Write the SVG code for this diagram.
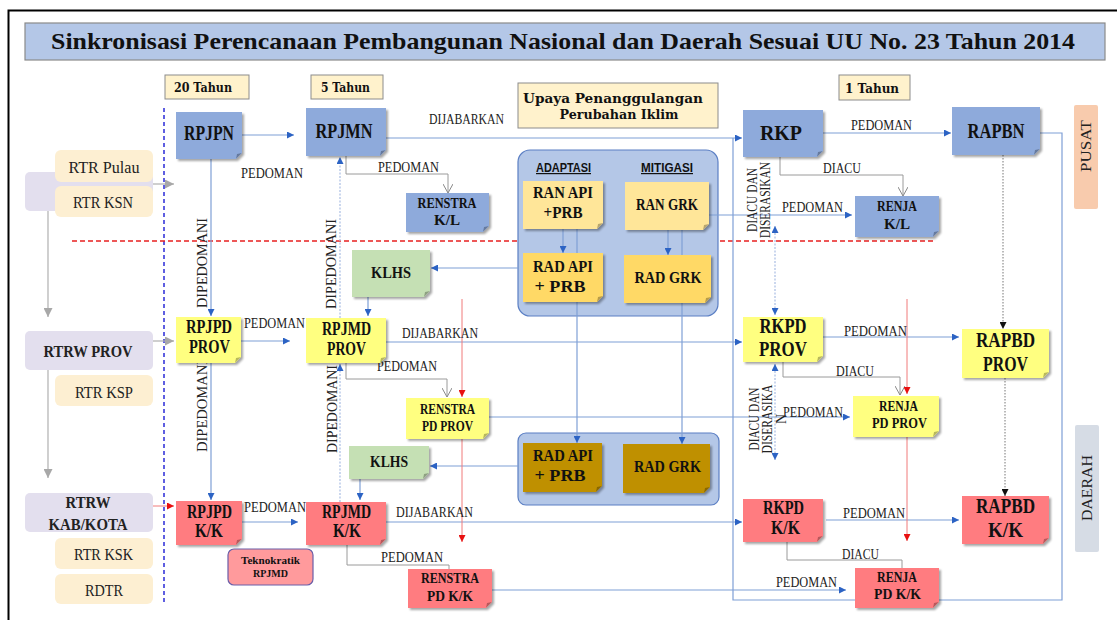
<svg xmlns="http://www.w3.org/2000/svg" width="1117" height="620" viewBox="0 0 1117 620">
<defs>
<filter id="ds" x="-10%" y="-10%" width="130%" height="130%"><feDropShadow dx="2" dy="2" stdDeviation="1.2" flood-color="#000" flood-opacity="0.35"/></filter>
<marker id="ab" viewBox="0 0 8 8" refX="8" refY="4" markerWidth="7" markerHeight="7" markerUnits="userSpaceOnUse" orient="auto-start-reverse"><path d="M0,0L8,4L0,8Z" fill="#2c63c4"/></marker>
<marker id="ar" viewBox="0 0 8 8" refX="8" refY="4" markerWidth="7" markerHeight="7" markerUnits="userSpaceOnUse" orient="auto"><path d="M0,0L8,4L0,8Z" fill="#e81010"/></marker>
<marker id="ak" viewBox="0 0 8 8" refX="8" refY="4" markerWidth="7" markerHeight="7" markerUnits="userSpaceOnUse" orient="auto"><path d="M0,0L8,4L0,8Z" fill="#111"/></marker>
<marker id="ag" viewBox="0 0 8 8" refX="8" refY="4" markerWidth="9" markerHeight="9" markerUnits="userSpaceOnUse" orient="auto"><path d="M0,0L8,4L0,8Z" fill="#a8a8a8"/></marker>
<marker id="ao" viewBox="0 0 10 10" refX="9" refY="5" markerWidth="10" markerHeight="10" markerUnits="userSpaceOnUse" orient="auto"><path d="M0,0L9,5L0,10" fill="none" stroke="#888" stroke-width="1"/></marker>
</defs>
<style>
.bl{fill:#8eaadb}.ye{fill:#ffff80}.rd{fill:#ff7c80}.gr{fill:#c5e0b4}.o1{fill:#ffe699}.o2{fill:#ffd966}.gd{fill:#bf9000}
.sh{filter:url(#ds)}
.fold{fill:#000;opacity:.28}
.nt{font-family:"Liberation Serif",serif;font-weight:bold;fill:#111;text-anchor:middle}
.lt{font-family:"Liberation Serif",serif;font-size:14px;fill:#222}
.vt{font-family:"Liberation Serif",serif;font-size:14px;fill:#222;text-anchor:middle}
.tb{fill:#fff2cc;stroke:#8c8c8c;stroke-width:1}
.tt{font-family:"DejaVu Serif",serif;font-weight:bold;font-size:12px;fill:#111;text-anchor:middle}
.pe{fill:#fdefd2}.lv{fill:#e3dfee}
.lf{font-family:"Liberation Serif",serif;font-size:16px;fill:#222;text-anchor:middle}
.c{fill:none;stroke:#7f9fd6;stroke-width:1.2}
.cl{fill:none;stroke:#a9bde3;stroke-width:1.2;stroke-dasharray:2 1.5}
.cg{fill:none;stroke:#9a9a9a;stroke-width:1}
.cr{fill:none;stroke:#f07a7a;stroke-width:1}
.ck{fill:none;stroke:#777;stroke-width:1;stroke-dasharray:1.5 1.5}
.gl{fill:none;stroke:#b0b0b0;stroke-width:1.2}
</style>
<rect x="0" y="0" width="1117" height="620" fill="#fff"/>
<path d="M8.5 640V10.5H1130" fill="none" stroke="#000" stroke-width="2"/>

<g id="title">
<rect x="25" y="23" width="1080" height="37" fill="#b4c7e7" stroke="#8a8a8a" stroke-width="1.2"/>
<text x="563" y="49" font-family="'Liberation Serif',serif" font-weight="bold" font-size="23" fill="#111" text-anchor="middle" textLength="1024" lengthAdjust="spacingAndGlyphs">Sinkronisasi Perencanaan Pembangunan Nasional dan Daerah Sesuai UU No. 23 Tahun 2014</text>
</g>

<g id="time-20"><rect class="tb" x="165" y="75" width="84" height="24"/><text class="tt" x="203" y="92" textLength="58" lengthAdjust="spacingAndGlyphs">20 Tahun</text></g>
<g id="time-5"><rect class="tb" x="311" y="75" width="72" height="24"/><text class="tt" x="345.5" y="92" textLength="49" lengthAdjust="spacingAndGlyphs">5 Tahun</text></g>
<g id="time-1"><rect class="tb" x="839" y="75" width="71" height="25"/><text class="tt" x="872" y="93" textLength="54" lengthAdjust="spacingAndGlyphs">1 Tahun</text></g>
<g id="upaya"><rect class="tb" x="518" y="83" width="200" height="45"/>
<text class="tt" x="613" y="103" font-size="13" textLength="180" lengthAdjust="spacingAndGlyphs">Upaya Penanggulangan</text>
<text class="tt" x="619" y="119" font-size="13" textLength="119" lengthAdjust="spacingAndGlyphs">Perubahan Iklim</text></g>

<g id="pusat"><rect x="1074" y="105" width="24" height="104" rx="2" fill="#f8cbad"/><text class="vt" font-size="15" transform="translate(1091 146) rotate(-90)" fill="#333" textLength="52" lengthAdjust="spacingAndGlyphs">PUSAT</text></g>
<g id="daerah"><rect x="1075" y="425" width="24" height="127" rx="2" fill="#d6dce5"/><text class="vt" font-size="15" transform="translate(1092 488) rotate(-90)" fill="#333" textLength="66" lengthAdjust="spacingAndGlyphs">DAERAH</text></g>

<!-- dividers -->
<line x1="164" y1="108" x2="164" y2="605" stroke="#2a2ad8" stroke-width="1.5" stroke-dasharray="4 3"/>
<line x1="72" y1="241" x2="934" y2="241" stroke="#e82020" stroke-width="1.5" stroke-dasharray="5 3"/>

<!-- climate groups -->
<g id="grp-adaptasi-mitigasi">
<rect x="518" y="150" width="200" height="166" rx="12" fill="#b4c7e7" stroke="#5b7fc4" stroke-width="1.2"/>
<text x="563.5" y="172" font-family="'Liberation Sans',sans-serif" font-weight="bold" font-size="12" fill="#111" text-anchor="middle" text-decoration="underline" textLength="55" lengthAdjust="spacingAndGlyphs">ADAPTASI</text>
<text x="667" y="172" font-family="'Liberation Sans',sans-serif" font-weight="bold" font-size="12" fill="#111" text-anchor="middle" text-decoration="underline" textLength="52" lengthAdjust="spacingAndGlyphs">MITIGASI</text>
</g>
<g id="grp-rad-daerah"><rect x="518" y="433" width="201" height="72" rx="8" fill="#b4c7e7" stroke="#5b7fc4" stroke-width="1.2"/></g>

<g id="connectors">
<!-- left spatial -->
<path class="gl" d="M153 184H174" marker-end="url(#ag)"/>
<path class="gl" d="M48 211V317" marker-end="url(#ag)"/>
<path class="gl" d="M153 341H174" marker-end="url(#ag)"/>
<path class="gl" d="M48 370V478" marker-end="url(#ag)"/>
<path class="cr" d="M153 506H174" marker-end="url(#ar)"/>
<!-- blue main -->
<path class="c" d="M242 135H294" marker-end="url(#ab)"/>
<path class="c" d="M386 138H742" marker-end="url(#ab)"/>
<path class="c" d="M1040 133H1062V600H733V138"/>
<path class="c" d="M823 133H951" marker-end="url(#ab)"/>
<path class="c" d="M211 159V316" marker-end="url(#ab)"/>
<path class="c" d="M211 363V500" marker-end="url(#ab)"/>
<path class="c" d="M241 341H290" marker-end="url(#ab)"/>
<path class="c" d="M242 522H298" marker-end="url(#ab)"/>
<path class="cl" d="M340 318V157" marker-end="url(#ab)"/>
<path class="cl" d="M340 502V364" marker-end="url(#ab)"/>
<path class="c" d="M386 342H742" marker-end="url(#ab)"/>
<path class="c" d="M386 522H742" marker-end="url(#ab)"/>
<path class="c" d="M823 337H959" marker-end="url(#ab)"/>
<path class="c" d="M826 520H959" marker-end="url(#ab)"/>
<path class="c" d="M709 215H852" marker-end="url(#ab)"/>
<path class="c" d="M489 417H850" marker-end="url(#ab)"/>
<path class="c" d="M492 590H846" marker-end="url(#ab)"/>
<path class="cl" d="M775 226V315" marker-start="url(#ab)" marker-end="url(#ab)"/>
<path class="cl" d="M775 364V460" marker-start="url(#ab)" marker-end="url(#ab)"/>
<path class="c" d="M518 268H431" marker-end="url(#ab)"/>
<path class="c" d="M518 466H430" marker-end="url(#ab)"/>
<path class="c" d="M368 297V316" marker-end="url(#ab)"/>
<path class="c" d="M360 479V500" marker-end="url(#ab)"/>
<path class="c" d="M563 229V253" marker-end="url(#ab)"/>
<path class="c" d="M668 230V255" marker-end="url(#ab)"/>
<path class="c" d="M577 229V443" marker-end="url(#ab)"/>
<path class="c" d="M682 230V444" marker-end="url(#ab)"/>
<!-- gray elbows -->
<path class="cg" d="M346 156V174H448V193" marker-end="url(#ao)"/>
<path class="cg" d="M346 363V379H447V397" marker-end="url(#ao)"/>
<path class="cg" d="M347 545V565H449V570"/>
<path class="cg" d="M780 157V175H903V196" marker-end="url(#ao)"/>
<path class="cg" d="M783 362V377H900V395" marker-end="url(#ao)"/>
<path class="cg" d="M787 542V560H902V569"/>
<!-- red -->
<path class="cr" d="M462 299V397" marker-end="url(#ar)"/>
<path class="cr" d="M462 439V542" marker-end="url(#ar)"/>
<path class="cr" d="M907 299V394" marker-end="url(#ar)"/>
<path class="cr" d="M907 437V541" marker-end="url(#ar)"/>
<!-- black dotted -->
<path class="ck" d="M1003 155V329" marker-end="url(#ak)"/>
<path class="ck" d="M1005 378V496" marker-end="url(#ak)"/>
<!-- labels -->
<text class="lt" x="429" y="124" textLength="75" lengthAdjust="spacingAndGlyphs">DIJABARKAN</text>
<text class="lt" x="241" y="178" textLength="62" lengthAdjust="spacingAndGlyphs">PEDOMAN</text>
<text class="lt" x="378" y="172" textLength="61" lengthAdjust="spacingAndGlyphs">PEDOMAN</text>
<text class="lt" x="851" y="130" textLength="61" lengthAdjust="spacingAndGlyphs">PEDOMAN</text>
<text class="lt" x="823" y="173" textLength="38" lengthAdjust="spacingAndGlyphs">DIACU</text>
<text class="lt" x="782" y="212" textLength="61" lengthAdjust="spacingAndGlyphs">PEDOMAN</text>
<text class="vt" transform="translate(757 200) rotate(-90)" textLength="64" lengthAdjust="spacingAndGlyphs">DIACU DAN</text>
<text class="vt" transform="translate(770 200) rotate(-90)" textLength="76" lengthAdjust="spacingAndGlyphs">DISERASIKAN</text>
<text class="lt" x="244" y="328" textLength="61" lengthAdjust="spacingAndGlyphs">PEDOMAN</text>
<text class="lt" x="402" y="338" textLength="76" lengthAdjust="spacingAndGlyphs">DIJABARKAN</text>
<text class="lt" x="377" y="371" textLength="60" lengthAdjust="spacingAndGlyphs">PEDOMAN</text>
<text class="lt" x="844" y="336" textLength="63" lengthAdjust="spacingAndGlyphs">PEDOMAN</text>
<text class="lt" x="836" y="376" textLength="38" lengthAdjust="spacingAndGlyphs">DIACU</text>
<text class="lt" x="783" y="417" textLength="60" lengthAdjust="spacingAndGlyphs">PEDOMAN</text>
<text class="vt" transform="translate(759 419) rotate(-90)" textLength="63" lengthAdjust="spacingAndGlyphs">DIACU DAN</text>
<text class="vt" transform="translate(772 419) rotate(-90)" textLength="69" lengthAdjust="spacingAndGlyphs">DISERASIKA</text>
<text class="vt" transform="translate(786 419) rotate(-90)">N</text>
<text class="vt" transform="translate(207 263) rotate(-90)" textLength="90" lengthAdjust="spacingAndGlyphs">DIPEDOMANI</text>
<text class="vt" transform="translate(336 264) rotate(-90)" textLength="90" lengthAdjust="spacingAndGlyphs">DIPEDOMANI</text>
<text class="vt" transform="translate(207 406) rotate(-90)" textLength="92" lengthAdjust="spacingAndGlyphs">DIPEDOMANI</text>
<text class="vt" transform="translate(337 409) rotate(-90)" textLength="88" lengthAdjust="spacingAndGlyphs">DIPEDOMANI</text>
<text class="lt" x="244" y="512" textLength="62" lengthAdjust="spacingAndGlyphs">PEDOMAN</text>
<text class="lt" x="396" y="517" textLength="77" lengthAdjust="spacingAndGlyphs">DIJABARKAN</text>
<text class="lt" x="381" y="562" textLength="62" lengthAdjust="spacingAndGlyphs">PEDOMAN</text>
<text class="lt" x="843" y="518" textLength="62" lengthAdjust="spacingAndGlyphs">PEDOMAN</text>
<text class="lt" x="842" y="559" textLength="37" lengthAdjust="spacingAndGlyphs">DIACU</text>
<text class="lt" x="776" y="587" textLength="61" lengthAdjust="spacingAndGlyphs">PEDOMAN</text>
</g>

<!-- left spatial boxes -->
<g id="rtr-nasional"><rect class="lv" x="25" y="172" width="128" height="39" rx="5"/>
<rect class="pe" x="55" y="150" width="98" height="32" rx="6"/><text class="lf" x="104" y="173" textLength="71" lengthAdjust="spacingAndGlyphs">RTR Pulau</text>
<rect class="pe" x="55" y="186" width="98" height="31" rx="6"/><text class="lf" x="103" y="208" textLength="60" lengthAdjust="spacingAndGlyphs">RTR KSN</text></g>
<g id="rtrw-prov"><rect class="lv" x="25" y="331" width="128" height="39" rx="5"/><text class="lf" x="88" y="357" font-weight="bold" fill="#111" textLength="89" lengthAdjust="spacingAndGlyphs">RTRW PROV</text></g>
<g id="rtr-ksp"><rect class="pe" x="55" y="375" width="98" height="31" rx="6"/><text class="lf" x="104" y="398" textLength="58" lengthAdjust="spacingAndGlyphs">RTR KSP</text></g>
<g id="rtrw-kab"><rect class="lv" x="25" y="493" width="128" height="39" rx="5"/><text class="lf" x="88" y="508" font-weight="bold" fill="#111" textLength="45" lengthAdjust="spacingAndGlyphs">RTRW</text><text class="lf" x="88" y="530" font-weight="bold" fill="#111" textLength="79" lengthAdjust="spacingAndGlyphs">KAB/KOTA</text></g>
<g id="rtr-ksk"><rect class="pe" x="55" y="538" width="98" height="31" rx="6"/><text class="lf" x="103.5" y="560" textLength="59" lengthAdjust="spacingAndGlyphs">RTR KSK</text></g>
<g id="rdtr"><rect class="pe" x="55" y="574" width="98" height="30" rx="6"/><text class="lf" x="104" y="596" textLength="38" lengthAdjust="spacingAndGlyphs">RDTR</text></g>

<!-- nodes -->
<g id="rpjpn"><path class="bl sh" d="M176 112H242V153L236 159H176Z"/><path class="fold" d="M242 153L236 159L237 154Z"/><text class="nt" x="209" y="140" font-size="20" textLength="50" lengthAdjust="spacingAndGlyphs">RPJPN</text></g>
<g id="rpjmn"><path class="bl sh" d="M306 108H386V150L380 156H306Z"/><path class="fold" d="M386 150L380 156L381 151Z"/><text class="nt" x="344" y="138" font-size="20" textLength="57" lengthAdjust="spacingAndGlyphs">RPJMN</text></g>
<g id="rkp"><path class="bl sh" d="M743 110H823V151L817 157H743Z"/><path class="fold" d="M823 151L817 157L818 152Z"/><text class="nt" x="781" y="140" font-size="20" textLength="42" lengthAdjust="spacingAndGlyphs">RKP</text></g>
<g id="rapbn"><path class="bl sh" d="M952 107H1040V149L1034 155H952Z"/><path class="fold" d="M1040 149L1034 155L1035 150Z"/><text class="nt" x="996" y="138" font-size="20" textLength="57" lengthAdjust="spacingAndGlyphs">RAPBN</text></g>
<g id="renstra-kl"><path class="bl sh" d="M406 193H489V226L483 232H406Z"/><path class="fold" d="M489 226L483 232L484 227Z"/><text class="nt" x="447" y="208" font-size="15" textLength="59" lengthAdjust="spacingAndGlyphs">RENSTRA</text><text class="nt" x="447" y="225" font-size="15" textLength="26" lengthAdjust="spacingAndGlyphs">K/L</text></g>
<g id="renja-kl"><path class="bl sh" d="M855 196H939V231L933 237H855Z"/><path class="fold" d="M939 231L933 237L934 232Z"/><text class="nt" x="897" y="211" font-size="15" textLength="40" lengthAdjust="spacingAndGlyphs">RENJA</text><text class="nt" x="897" y="229" font-size="15" textLength="26" lengthAdjust="spacingAndGlyphs">K/L</text></g>
<g id="ran-api"><path class="o1 sh" d="M523 181H603V223L597 229H523Z"/><path class="fold" d="M603 223L597 229L598 224Z"/><text class="nt" x="563" y="198" font-size="17" textLength="60" lengthAdjust="spacingAndGlyphs">RAN API</text><text class="nt" x="563" y="218" font-size="17" textLength="39" lengthAdjust="spacingAndGlyphs">+PRB</text></g>
<g id="ran-grk"><path class="o1 sh" d="M625 182H709V224L703 230H625Z"/><path class="fold" d="M709 224L703 230L704 225Z"/><text class="nt" x="667" y="210" font-size="17" textLength="62" lengthAdjust="spacingAndGlyphs">RAN GRK</text></g>
<g id="rad-api"><path class="o2 sh" d="M523 253H603V296L597 302H523Z"/><path class="fold" d="M603 296L597 302L598 297Z"/><text class="nt" x="563" y="272" font-size="17" textLength="60" lengthAdjust="spacingAndGlyphs">RAD API</text><text class="nt" x="560" y="292" font-size="17" textLength="51" lengthAdjust="spacingAndGlyphs">+ PRB</text></g>
<g id="rad-grk"><path class="o2 sh" d="M624 255H711V297L705 303H624Z"/><path class="fold" d="M711 297L705 303L706 298Z"/><text class="nt" x="668" y="283" font-size="17" textLength="67" lengthAdjust="spacingAndGlyphs">RAD GRK</text></g>
<g id="klhs-1"><path class="gr sh" d="M352 250H430V291L424 297H352Z"/><path class="fold" d="M430 291L424 297L425 292Z"/><text class="nt" x="391" y="278" font-size="17" textLength="40" lengthAdjust="spacingAndGlyphs">KLHS</text></g>
<g id="rpjpd-prov"><path class="ye sh" d="M176 317H241V357L235 363H176Z"/><path class="fold" d="M241 357L235 363L236 358Z"/><text class="nt" x="209" y="333" font-size="18" textLength="46" lengthAdjust="spacingAndGlyphs">RPJPD</text><text class="nt" x="209.5" y="353" font-size="18" textLength="41" lengthAdjust="spacingAndGlyphs">PROV</text></g>
<g id="rpjmd-prov"><path class="ye sh" d="M306 318H386V357L380 363H306Z"/><path class="fold" d="M386 357L380 363L381 358Z"/><text class="nt" x="346.5" y="335" font-size="18" textLength="49" lengthAdjust="spacingAndGlyphs">RPJMD</text><text class="nt" x="346.5" y="355" font-size="18" textLength="39" lengthAdjust="spacingAndGlyphs">PROV</text></g>
<g id="rkpd-prov"><path class="ye sh" d="M743 317H823V356L817 362H743Z"/><path class="fold" d="M823 356L817 362L818 357Z"/><text class="nt" x="783" y="333" font-size="20" textLength="47" lengthAdjust="spacingAndGlyphs">RKPD</text><text class="nt" x="783" y="356" font-size="20" textLength="48" lengthAdjust="spacingAndGlyphs">PROV</text></g>
<g id="rapbd-prov"><path class="ye sh" d="M962 329H1049V372L1043 378H962Z"/><path class="fold" d="M1049 372L1043 378L1044 373Z"/><text class="nt" x="1005.5" y="347" font-size="20" textLength="59" lengthAdjust="spacingAndGlyphs">RAPBD</text><text class="nt" x="1005.5" y="371" font-size="20" textLength="45" lengthAdjust="spacingAndGlyphs">PROV</text></g>
<g id="renstra-pd-prov"><path class="ye sh" d="M406 398H489V433L483 439H406Z"/><path class="fold" d="M489 433L483 439L484 434Z"/><text class="nt" x="447.5" y="414" font-size="14" textLength="55" lengthAdjust="spacingAndGlyphs">RENSTRA</text><text class="nt" x="447.5" y="431" font-size="14" textLength="51" lengthAdjust="spacingAndGlyphs">PD PROV</text></g>
<g id="renja-pd-prov"><path class="ye sh" d="M853 396H939V431L933 437H853Z"/><path class="fold" d="M939 431L933 437L934 432Z"/><text class="nt" x="898.5" y="411" font-size="14" textLength="39" lengthAdjust="spacingAndGlyphs">RENJA</text><text class="nt" x="899.5" y="428" font-size="14" textLength="55" lengthAdjust="spacingAndGlyphs">PD PROV</text></g>
<g id="klhs-2"><path class="gr sh" d="M349 446H429V473L423 479H349Z"/><path class="fold" d="M429 473L423 479L424 474Z"/><text class="nt" x="389" y="467" font-size="17" textLength="38" lengthAdjust="spacingAndGlyphs">KLHS</text></g>
<g id="rad-api-daerah"><path class="gd sh" d="M523 443H602V486L596 492H523Z"/><path class="fold" d="M602 486L596 492L597 487Z"/><text class="nt" x="563" y="461" font-size="17" textLength="60" lengthAdjust="spacingAndGlyphs">RAD API</text><text class="nt" x="560" y="481" font-size="17" textLength="51" lengthAdjust="spacingAndGlyphs">+ PRB</text></g>
<g id="rad-grk-daerah"><path class="gd sh" d="M623 444H710V487L704 493H623Z"/><path class="fold" d="M710 487L704 493L705 488Z"/><text class="nt" x="667.5" y="472" font-size="17" textLength="67" lengthAdjust="spacingAndGlyphs">RAD GRK</text></g>
<g id="rpjpd-kk"><path class="rd sh" d="M176 501H242V539L236 545H176Z"/><path class="fold" d="M242 539L236 545L237 540Z"/><text class="nt" x="209.5" y="518" font-size="18" textLength="45" lengthAdjust="spacingAndGlyphs">RPJPD</text><text class="nt" x="209" y="537" font-size="18" textLength="28" lengthAdjust="spacingAndGlyphs">K/K</text></g>
<g id="rpjmd-kk"><path class="rd sh" d="M306 502H386V539L380 545H306Z"/><path class="fold" d="M386 539L380 545L381 540Z"/><text class="nt" x="346.5" y="518" font-size="18" textLength="49" lengthAdjust="spacingAndGlyphs">RPJMD</text><text class="nt" x="347" y="537" font-size="18" textLength="28" lengthAdjust="spacingAndGlyphs">K/K</text></g>
<g id="teknokratik"><rect x="228" y="549" width="85" height="36" rx="6" fill="#ff9a9c" stroke="#6b5ea8" stroke-width="1.2"/><text class="nt" x="270.5" y="564" font-size="10" textLength="59" lengthAdjust="spacingAndGlyphs">Teknokratik</text><text class="nt" x="270.5" y="577" font-size="10" textLength="35" lengthAdjust="spacingAndGlyphs">RPJMD</text></g>
<g id="rkpd-kk"><path class="rd sh" d="M743 499H823V536L817 542H743Z"/><path class="fold" d="M823 536L817 542L818 537Z"/><text class="nt" x="783.5" y="514" font-size="18" textLength="41" lengthAdjust="spacingAndGlyphs">RKPD</text><text class="nt" x="785.5" y="534" font-size="18" textLength="29" lengthAdjust="spacingAndGlyphs">K/K</text></g>
<g id="rapbd-kk"><path class="rd sh" d="M962 496H1049V538L1043 544H962Z"/><path class="fold" d="M1049 538L1043 544L1044 539Z"/><text class="nt" x="1005.5" y="513" font-size="20" textLength="59" lengthAdjust="spacingAndGlyphs">RAPBD</text><text class="nt" x="1005.5" y="537" font-size="20" textLength="35" lengthAdjust="spacingAndGlyphs">K/K</text></g>
<g id="renstra-pd-kk"><path class="rd sh" d="M408 569H492V602L486 608H408Z"/><path class="fold" d="M492 602L486 608L487 603Z"/><text class="nt" x="450" y="583" font-size="15" textLength="58" lengthAdjust="spacingAndGlyphs">RENSTRA</text><text class="nt" x="450" y="601" font-size="15" textLength="46" lengthAdjust="spacingAndGlyphs">PD K/K</text></g>
<g id="renja-pd-kk"><path class="rd sh" d="M855 568H939V602L933 608H855Z"/><path class="fold" d="M939 602L933 608L934 603Z"/><text class="nt" x="897" y="582" font-size="15" textLength="40" lengthAdjust="spacingAndGlyphs">RENJA</text><text class="nt" x="897.5" y="599" font-size="15" textLength="47" lengthAdjust="spacingAndGlyphs">PD K/K</text></g>
</svg>
